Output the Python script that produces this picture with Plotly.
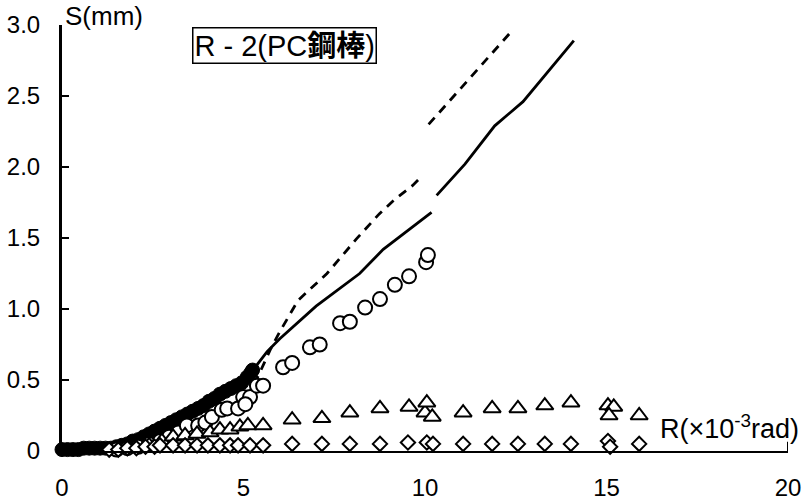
import plotly.graph_objects as go

# Rotation R (x10^-3 rad) and slip S (mm) for each measured series
filled_r = [0, 0.15, 0.3, 0.45, 0.6, 0.75, 0.9, 1.05, 1.2, 1.35, 1.5, 1.65, 1.8, 1.95,
            2.1, 2.25, 2.4, 2.55, 2.7, 2.85, 3.0, 3.15, 3.3, 3.45, 3.6, 3.75, 3.9, 4.05,
            4.2, 4.35, 4.5, 4.65, 4.8, 4.95, 5.1, 5.2, 5.25]
filled_s = [0.01, 0.01, 0.01, 0.01, 0.02, 0.02, 0.02, 0.02, 0.02, 0.02, 0.03, 0.04, 0.05, 0.07,
            0.08, 0.10, 0.12, 0.14, 0.16, 0.18, 0.20, 0.22, 0.24, 0.26, 0.28, 0.30, 0.32, 0.35,
            0.37, 0.40, 0.42, 0.44, 0.46, 0.48, 0.52, 0.55, 0.57]

open_r = [1.5, 1.8, 2.1, 2.4, 2.7, 2.95, 3.2, 3.44, 3.75, 3.95, 4.13, 4.4, 4.55, 4.85, 4.99,
          5.18, 5.05, 5.37, 5.54, 6.09, 6.34, 6.83, 7.1, 7.66, 7.93, 8.35, 8.76, 9.17, 9.56,
          10.03, 10.08]
open_s = [0.01, 0.02, 0.03, 0.05, 0.07, 0.10, 0.13, 0.18, 0.18, 0.20, 0.24, 0.29, 0.30, 0.30, 0.38,
          0.38, 0.33, 0.46, 0.46, 0.59, 0.62, 0.73, 0.75, 0.90, 0.91, 1.01, 1.07, 1.17, 1.23,
          1.33, 1.38]

tri_r = [2.4, 2.75, 3.06, 3.39, 3.72, 4.08, 4.35, 4.63, 4.9, 5.12, 5.54, 6.34, 7.16, 7.93, 8.76,
         9.56, 10.0, 10.05, 10.2, 11.05, 11.85, 12.56, 13.3, 14.02, 15.04, 15.2, 15.07, 15.9]
tri_s = [0.04, 0.07, 0.10, 0.11, 0.12, 0.13, 0.15, 0.15, 0.17, 0.18, 0.18, 0.22, 0.23, 0.27, 0.30,
         0.31, 0.27, 0.34, 0.24, 0.27, 0.30, 0.30, 0.32, 0.34, 0.32, 0.31, 0.25, 0.25]

dia_r = [1.3, 1.55, 1.8, 2.05, 2.3, 2.55, 2.7, 3.06, 3.39, 3.72, 4.02, 4.35, 4.63, 4.85, 5.18,
         5.54, 6.34, 7.16, 7.93, 8.76, 9.53, 10.05, 10.22, 11.05, 11.85, 12.56, 13.3, 14.02,
         15.04, 15.1, 15.9]
dia_s = [0.01, 0.01, 0.02, 0.02, 0.03, 0.03, 0.04, 0.04, 0.04, 0.04, 0.04, 0.04, 0.04, 0.04, 0.04,
         0.04, 0.05, 0.05, 0.05, 0.05, 0.06, 0.06, 0.05, 0.05, 0.05, 0.05, 0.05, 0.05,
         0.07, 0.03, 0.05]

# Calculated curves (solid and dashed), each in two pieces
solid1_r = [2.5, 3.0, 3.5, 4.0, 4.4, 5.05, 5.35, 5.65, 6.0, 7.0, 7.85, 8.2, 8.85, 9.55, 10.18]
solid1_s = [0.10, 0.17, 0.24, 0.31, 0.37, 0.48, 0.60, 0.70, 0.79, 1.02, 1.18, 1.25, 1.42, 1.56, 1.68]
solid2_r = [10.32, 11.1, 11.92, 12.7, 14.1]
solid2_s = [1.80, 2.02, 2.29, 2.46, 2.89]

dash1_r = [5.3, 5.5, 5.75, 6.0, 6.5, 7.3, 8.1, 8.74, 9.16, 9.66, 9.93]
dash1_s = [0.47, 0.58, 0.72, 0.84, 1.06, 1.25, 1.49, 1.67, 1.77, 1.87, 1.94]
dash2_r = [10.1, 12.33]
dash2_s = [2.30, 2.94]

x_ticks = [0, 5, 10, 15, 20]
y_ticks = [0, 0.5, 1.0, 1.5, 2.0, 2.5, 3.0]
y_tick_text = ["0", "0.5", "1.0", "1.5", "2.0", "2.5", "3.0"]

FONT = "Liberation Sans, Arial, Noto Sans CJK JP"
INK = "black"

fig = go.Figure()

fig.add_trace(go.Scatter(
    x=filled_r, y=filled_s, mode="markers", cliponaxis=False,
    marker=dict(symbol="circle", size=14, color=INK, line=dict(color=INK, width=1))))

for xr, ys, dash in [(solid1_r, solid1_s, "solid"), (solid2_r, solid2_s, "solid"),
                     (dash1_r, dash1_s, "9px,7px"), (dash2_r, dash2_s, "9px,7px")]:
    fig.add_trace(go.Scatter(x=xr, y=ys, mode="lines", cliponaxis=False,
                             line=dict(color=INK, width=2.8, dash=dash)))

fig.add_trace(go.Scatter(
    x=open_r, y=open_s, mode="markers", cliponaxis=False,
    marker=dict(symbol="circle", size=14, color="white", line=dict(color=INK, width=2))))
fig.add_trace(go.Scatter(
    x=tri_r, y=tri_s, mode="markers", cliponaxis=False,
    marker=dict(symbol="triangle-up", size=15, color="white", line=dict(color=INK, width=2))))
fig.add_trace(go.Scatter(
    x=dia_r, y=dia_s, mode="markers", cliponaxis=False,
    marker=dict(symbol="diamond", size=11, color="white", line=dict(color=INK, width=2))))

fig.update_layout(
    width=808, height=503,
    margin=dict(l=62, r=20, t=25, b=52),
    paper_bgcolor="white", plot_bgcolor="white",
    showlegend=False,
    font=dict(family=FONT, size=24, color=INK),
    xaxis=dict(range=[0, 20], tickvals=x_ticks, ticktext=[str(v) for v in x_ticks],
               showgrid=False, zeroline=False, showline=True, linecolor=INK, linewidth=2,
               ticks="", ticklabelstandoff=14, tickfont=dict(size=24), automargin=False),
    yaxis=dict(range=[0, 3], tickvals=y_ticks, ticktext=y_tick_text,
               showgrid=False, zeroline=False, showline=True, linecolor=INK, linewidth=3,
               ticks="inside", ticklen=7, tickwidth=2, tickcolor=INK,
               ticklabelstandoff=14, tickfont=dict(size=24), automargin=False),
)

# Closing tick at the right end of the R axis
fig.add_shape(type="line", xref="x", yref="paper", x0=20, x1=20, y0=0, y1=0.022,
              line=dict(color=INK, width=2))

fig.add_annotation(text="S(mm)", xref="paper", yref="paper", x=0.002, y=1.02,
                   xanchor="left", yanchor="middle", showarrow=False,
                   font=dict(size=26, family=FONT))
fig.add_annotation(text="R(×10<sup>-3</sup>rad)", xref="paper", yref="paper", x=1.018, y=0.056,
                   xanchor="right", yanchor="middle", showarrow=False,
                   font=dict(size=27, family=FONT))
fig.add_annotation(text="R - 2(PC<b>鋼棒</b>)", xref="paper", yref="paper", x=0.306, y=0.952,
                   xanchor="center", yanchor="middle", showarrow=False,
                   bordercolor=INK, borderwidth=1.5, borderpad=1, bgcolor="white",
                   font=dict(size=29, family=FONT))

fig.write_html("out.html")
